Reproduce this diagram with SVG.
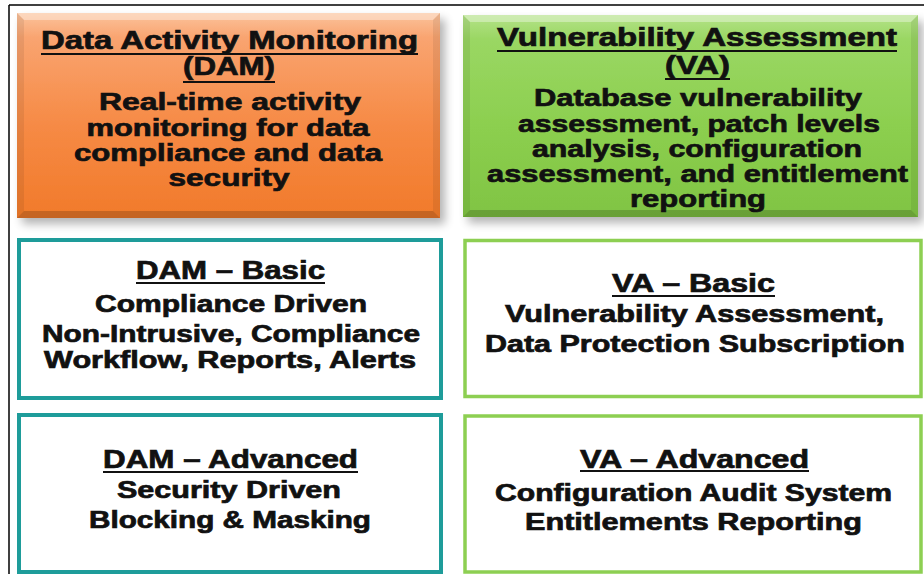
<svg xmlns="http://www.w3.org/2000/svg" width="924" height="574" viewBox="0 0 924 574">
  <defs>
    <linearGradient id="gOrange" x1="0" y1="0" x2="0" y2="1">
      <stop offset="0" stop-color="#fbc39c"/>
      <stop offset="0.12" stop-color="#f9a470"/>
      <stop offset="0.55" stop-color="#f68a45"/>
      <stop offset="1" stop-color="#f17a2a"/>
    </linearGradient>
    <linearGradient id="gGreen" x1="0" y1="0" x2="0" y2="1">
      <stop offset="0" stop-color="#b4e288"/>
      <stop offset="0.12" stop-color="#9ad763"/>
      <stop offset="0.55" stop-color="#8ccf4f"/>
      <stop offset="1" stop-color="#80c443"/>
    </linearGradient>
    <filter id="shadow" x="-10%" y="-10%" width="125%" height="130%">
      <feGaussianBlur in="SourceAlpha" stdDeviation="5"/>
      <feOffset dx="5" dy="6" result="b"/>
      <feComponentTransfer><feFuncA type="linear" slope="0.3"/></feComponentTransfer>
      <feMerge><feMergeNode/><feMergeNode in="SourceGraphic"/></feMerge>
    </filter>
  </defs>
  <style>
    text { font-family: "Liberation Sans", Arial, sans-serif; font-weight: bold; fill: #111; stroke: #111; stroke-width: 0.7; text-anchor: middle; }
    .t { font-size: 25px; }
    .b { font-size: 24px; }
    .s { font-size: 23px; }
    .ul { stroke: #111; stroke-width: 2; }
    .teal { fill: #ffffff; stroke: #1e9c9a; stroke-width: 4; }
    .lime { fill: #ffffff; stroke: #8dcf52; stroke-width: 3.5; }
    .hi { fill: #ffffff; opacity: 0.35; }
    .lo { fill: #000000; opacity: 0.18; }
    .side { fill: #000000; opacity: 0.07; }
  </style>
  <rect x="0" y="0" width="924" height="574" fill="#ffffff"/>
  <!-- outer frame -->
  <line x1="9" y1="5" x2="924" y2="5" stroke="#000" stroke-width="1.5"/>
  <line x1="9" y1="5" x2="9" y2="574" stroke="#000" stroke-width="1.5"/>

  <g id="dam">
    <g filter="url(#shadow)">
      <rect x="17" y="13" width="423" height="205" fill="url(#gOrange)"/>
    </g>
    <polygon class="hi" points="17,13 440,13 433,20 24,20"/>
    <polygon class="lo" points="17,218 440,218 433,211 24,211"/>
    <polygon class="side" points="17,13 24,20 24,211 17,218"/>
    <polygon class="side" points="440,13 433,20 433,211 440,218"/>
    <text class="t" x="229.5" y="49" textLength="377" lengthAdjust="spacingAndGlyphs">Data Activity Monitoring</text>
    <line class="ul" x1="41" y1="54" x2="418" y2="54"/>
    <text class="t" x="229" y="75" textLength="92" lengthAdjust="spacingAndGlyphs">(DAM)</text>
    <line class="ul" x1="183" y1="82" x2="275" y2="82"/>
    <text class="b" x="230" y="110" textLength="262" lengthAdjust="spacingAndGlyphs">Real-time activity</text>
    <text class="b" x="228" y="135.5" textLength="283" lengthAdjust="spacingAndGlyphs">monitoring for data</text>
    <text class="b" x="228" y="161" textLength="308" lengthAdjust="spacingAndGlyphs">compliance and data</text>
    <text class="b" x="229" y="186" textLength="121" lengthAdjust="spacingAndGlyphs">security</text>
  </g>

  <g id="va">
    <g filter="url(#shadow)">
      <rect x="463" y="15" width="455" height="202" fill="url(#gGreen)"/>
    </g>
    <polygon class="hi" points="463,15 918,15 911,22 470,22"/>
    <polygon class="lo" points="463,217 918,217 911,210 470,210"/>
    <polygon class="side" points="463,15 470,22 470,210 463,217"/>
    <polygon class="side" points="918,15 911,22 911,210 918,217"/>
    <text class="t" x="697" y="46" textLength="400" lengthAdjust="spacingAndGlyphs">Vulnerability Assessment</text>
    <line class="ul" x1="497" y1="51" x2="897" y2="51"/>
    <text class="t" x="697.5" y="74" textLength="65" lengthAdjust="spacingAndGlyphs">(VA)</text>
    <line class="ul" x1="665" y1="79" x2="730" y2="79"/>
    <text class="b" x="698" y="106" textLength="328" lengthAdjust="spacingAndGlyphs">Database vulnerability</text>
    <text class="b" x="699" y="131.5" textLength="362" lengthAdjust="spacingAndGlyphs">assessment, patch levels</text>
    <text class="b" x="697" y="157" textLength="330" lengthAdjust="spacingAndGlyphs">analysis, configuration</text>
    <text class="b" x="697.5" y="182" textLength="421" lengthAdjust="spacingAndGlyphs">assessment, and entitlement</text>
    <text class="b" x="698" y="207" textLength="136" lengthAdjust="spacingAndGlyphs">reporting</text>
  </g>

  <g id="dam-basic">
    <rect class="teal" x="19" y="240" width="422" height="158"/>
    <text class="t" x="230.5" y="279" textLength="189" lengthAdjust="spacingAndGlyphs">DAM – Basic</text>
    <line class="ul" x1="136" y1="283" x2="325" y2="283"/>
    <text class="s" x="231" y="312" textLength="272" lengthAdjust="spacingAndGlyphs">Compliance Driven</text>
    <text class="s" x="231" y="342" textLength="378" lengthAdjust="spacingAndGlyphs">Non-Intrusive, Compliance</text>
    <text class="s" x="230" y="368" textLength="372" lengthAdjust="spacingAndGlyphs">Workflow, Reports, Alerts</text>
  </g>

  <g id="va-basic">
    <rect class="lime" x="465" y="240.5" width="456" height="156"/>
    <text class="t" x="693.5" y="292" textLength="163" lengthAdjust="spacingAndGlyphs">VA – Basic</text>
    <line class="ul" x1="612" y1="296" x2="775" y2="296"/>
    <text class="s" x="694.5" y="322" textLength="379" lengthAdjust="spacingAndGlyphs">Vulnerability Assessment,</text>
    <text class="s" x="695" y="352" textLength="420" lengthAdjust="spacingAndGlyphs">Data Protection Subscription</text>
  </g>

  <g id="dam-advanced">
    <rect class="teal" x="19" y="415" width="422" height="157"/>
    <text class="t" x="230.5" y="468" textLength="255" lengthAdjust="spacingAndGlyphs">DAM – Advanced</text>
    <line class="ul" x1="103" y1="472" x2="358" y2="472"/>
    <text class="s" x="229" y="498" textLength="224" lengthAdjust="spacingAndGlyphs">Security Driven</text>
    <text class="s" x="230" y="528" textLength="282" lengthAdjust="spacingAndGlyphs">Blocking &amp; Masking</text>
  </g>

  <g id="va-advanced">
    <rect class="lime" x="465" y="416" width="456" height="156"/>
    <text class="t" x="694.5" y="468" textLength="229" lengthAdjust="spacingAndGlyphs">VA – Advanced</text>
    <line class="ul" x1="580" y1="471" x2="809" y2="471"/>
    <text class="s" x="693.5" y="501" textLength="397" lengthAdjust="spacingAndGlyphs">Configuration Audit System</text>
    <text class="s" x="693.5" y="530" textLength="337" lengthAdjust="spacingAndGlyphs">Entitlements Reporting</text>
  </g>
</svg>
